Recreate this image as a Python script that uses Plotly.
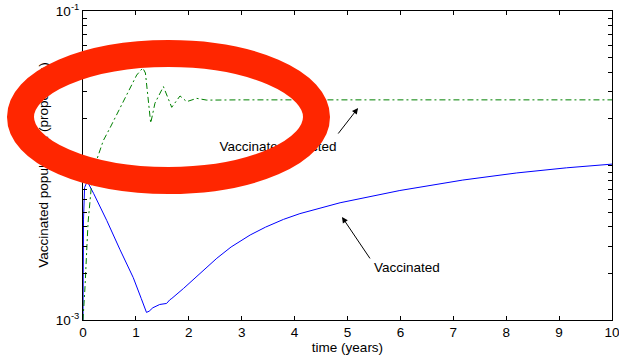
import plotly.graph_objects as go

# ---- data -------------------------------------------------------------
# time (years) and vaccinated proportion
t_vacc = [0.0, 0.01, 0.03, 0.08, 0.2, 0.45, 0.7, 0.95, 1.1, 1.2, 1.25, 1.32,
          1.45, 1.58, 1.64, 1.68, 1.9, 2.21, 2.53, 2.8, 3.16, 3.45, 3.79,
          4.10, 4.48, 4.86, 5.99, 7.18, 8.20, 9.14, 10.0]
vaccinated = [0.001, 0.0045, 0.0072, 0.0079, 0.0066, 0.0044, 0.00285, 0.00188,
              0.00138, 0.00112, 0.00114, 0.0012, 0.00126, 0.00128, 0.00135,
              0.00138, 0.0016, 0.0020, 0.00251, 0.00297, 0.00355, 0.00399,
              0.00448, 0.00488, 0.00532, 0.00574, 0.00689, 0.00805, 0.00895,
              0.00966, 0.01021]

# time (years) and vaccinated-infected proportion
t_inf = [0.0, 0.038, 0.095, 0.164, 0.259, 0.384, 0.51, 0.756, 1.015, 1.13,
         1.18, 1.28, 1.36, 1.52, 1.677, 1.834, 1.96, 2.15, 2.34, 3.0, 10.0]
vaccinated_infected = [0.001, 0.00164, 0.00425, 0.0077, 0.01086, 0.0145,
                       0.0175, 0.0254, 0.0385, 0.0428, 0.0397, 0.0188, 0.0253,
                       0.0324, 0.0238, 0.0282, 0.0259, 0.0272, 0.0265, 0.0266,
                       0.0266]

x_ticks = list(range(0, 11))
y_major = [1e-3, 1e-2, 1e-1]
y_major_text = ["10<sup>-3</sup>", "10<sup>-2</sup>", "10<sup>-1</sup>"]

# ---- figure -----------------------------------------------------------
FONT = "Liberation Sans, Arial, Helvetica, sans-serif"
FS = 13.5

y_minor = [m * d for d in (1e-3, 1e-2) for m in range(2, 10)]
y_tickvals = y_major + y_minor
y_ticktext = y_major_text + [""] * len(y_minor)

fig = go.Figure()
fig.add_trace(go.Scatter(x=t_vacc, y=vaccinated, mode="lines",
                         line=dict(color="#0000ff", width=1)))
fig.add_trace(go.Scatter(x=t_inf, y=vaccinated_infected, mode="lines",
                         line=dict(color="#008000", width=1,
                                   dash="6px,3px,2px,3px")))

# plot area in pixels: left 83, right 612, top 11, bottom 320
W, H = 619, 360
L, R, T, B = 83, 7, 11, 40
pw, ph = W - L - R, H - T - B


def px(xp):
    return (xp - L) / pw


def py(yp):
    return (H - B - yp) / ph


fig.update_layout(
    width=W, height=H,
    margin=dict(l=L, r=R, t=T, b=B, pad=0, autoexpand=False),
    paper_bgcolor="white", plot_bgcolor="white",
    showlegend=False,
    font=dict(family=FONT, size=FS, color="black"),
    xaxis=dict(range=[0, 10], tickvals=x_ticks, ticks="inside", ticklen=4,
               tickcolor="black", showline=True, linecolor="black",
               linewidth=1, mirror="ticks", showgrid=False, zeroline=False,
               automargin=False, ticklabeloverflow="allow",
               title=dict(text="time (years)", standoff=2,
                          font=dict(size=FS))),
    yaxis=dict(type="log", range=[-3, -1], tickvals=y_tickvals,
               ticktext=y_ticktext, ticks="inside", ticklen=4,
               tickcolor="black", showline=True, linecolor="black",
               linewidth=1, mirror="ticks", showgrid=False, zeroline=False,
               automargin=False, ticklabeloverflow="allow"),
)

# arrows with labels
fig.add_annotation(x=4.896, y=-2.333, xref="x", yref="y", text="",
                   showarrow=True, ax=29, ay=43, arrowhead=2, arrowsize=1.2,
                   arrowwidth=1, arrowcolor="black")
fig.add_annotation(x=6.134, y=-2.663, xref="x", yref="y", text="Vaccinated",
                   showarrow=False, xanchor="center", yanchor="middle",
                   font=dict(size=FS, color="black"))
fig.add_annotation(x=5.20, y=-1.628, xref="x", yref="y", text="",
                   showarrow=True, ax=-21, ay=27, arrowhead=2, arrowsize=1.2,
                   arrowwidth=1, arrowcolor="black")

# text drawn in the shape layer so the ring overlays it
fig.add_shape(type="rect", xref="paper", yref="paper",
              x0=px(36), x1=px(48), y0=py(275), y1=py(55),
              line=dict(width=0), layer="above",
              label=dict(text="Vaccinated population (proportion)",
                         textangle=-90, textposition="middle center",
                         font=dict(family=FONT, size=FS, color="black")))
fig.add_shape(type="rect", xref="paper", yref="paper",
              x0=px(218), x1=px(338), y0=py(152), y1=py(138),
              line=dict(width=0), layer="above",
              label=dict(text="Vaccinated infected",
                         textposition="middle center",
                         font=dict(family=FONT, size=FS, color="black")))

# red ring
fig.add_shape(type="circle", xref="paper", yref="paper",
              x0=px(20.5), x1=px(316.5), y0=py(180.5), y1=py(53.5),
              line=dict(color="#ff2600", width=27), layer="above")

fig.write_html("out.html")
